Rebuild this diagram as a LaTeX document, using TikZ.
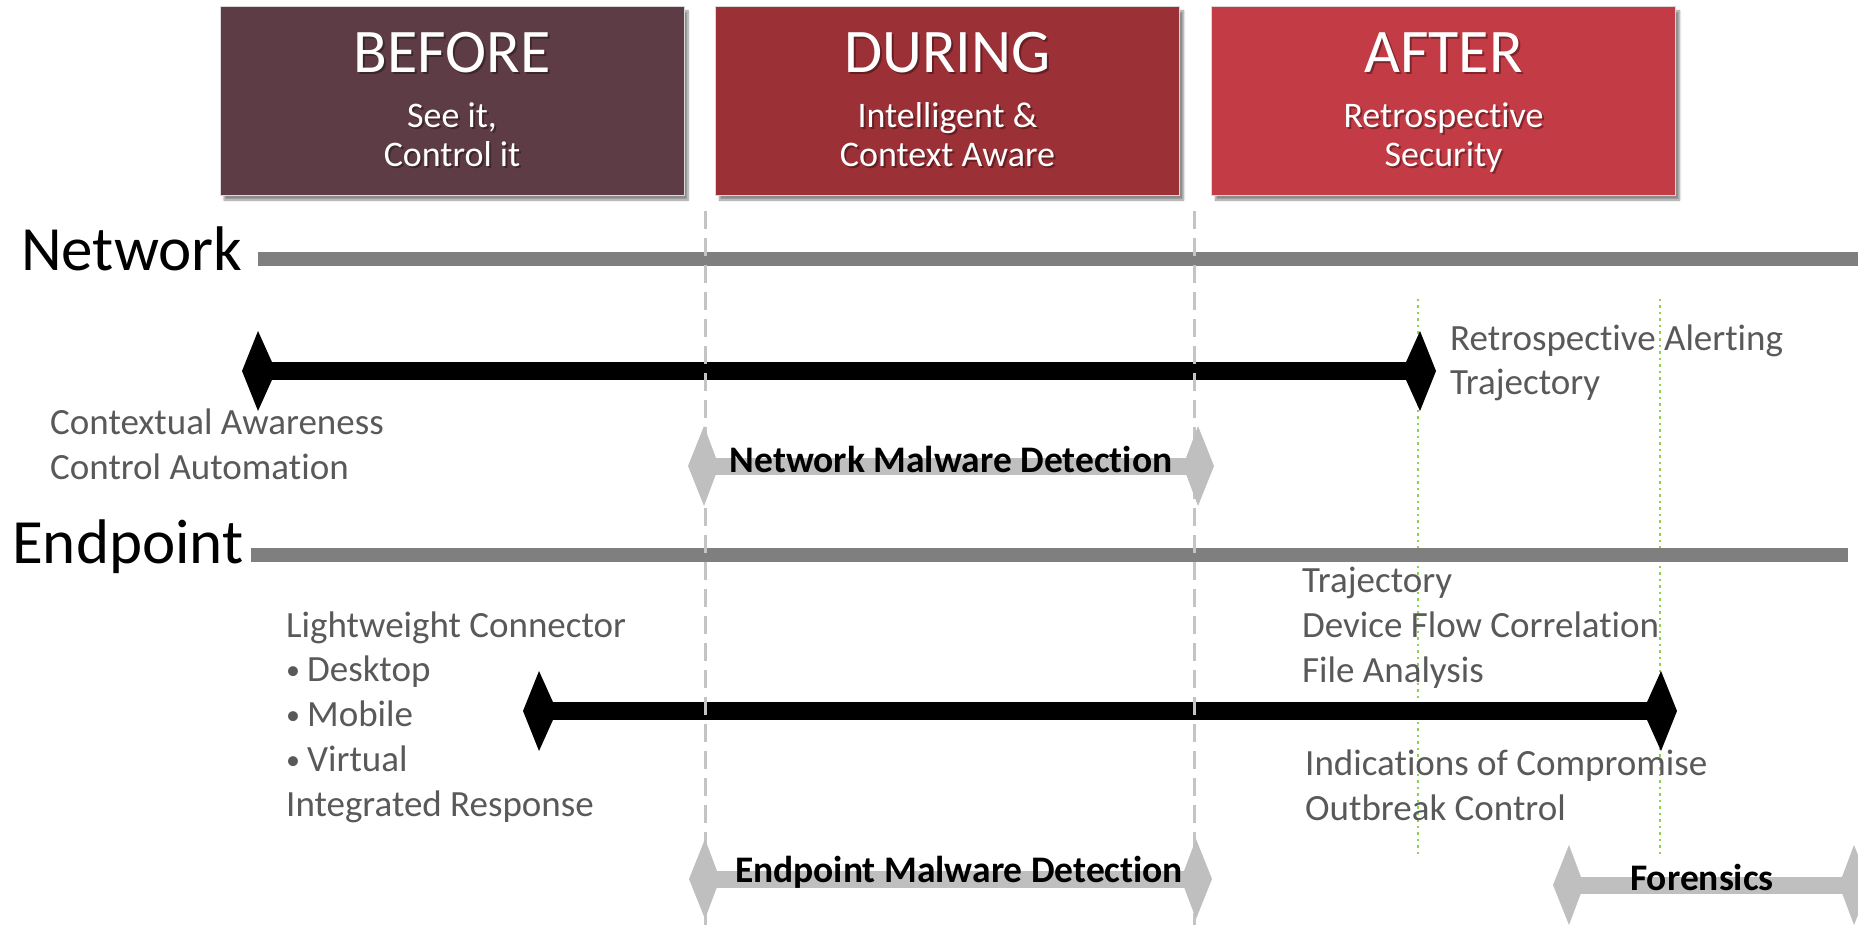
\documentclass[tikz,border=0pt]{standalone}
\usepackage{fontspec}
\setmainfont{Carlito}[Ligatures=NoCommon]
\usetikzlibrary{arrows.meta,shadows.blur}

\definecolor{beforec}{HTML}{5E3C46}
\definecolor{duringc}{HTML}{9B3037}
\definecolor{afterc}{HTML}{C33B44}
\definecolor{bodytxt}{HTML}{595959}
\definecolor{axisgray}{HTML}{7F7F7F}
\definecolor{spangray}{HTML}{BFBFBF}
\definecolor{guidegray}{HTML}{C4C4C4}
\definecolor{dotgreen}{HTML}{92D050}

\newcommand{\itembullet}{{\fontsize{28}{28}\selectfont\raisebox{1.5pt}{•}}\hspace{7pt}}

\tikzset{
  bk/.tip={Kite[length=34pt,width=80pt,inset=18pt]},
  gk/.tip={Kite[length=31pt,width=80pt,inset=15pt]},
  phasebox/.style={rectangle, inner sep=0pt, minimum width=464pt, minimum height=189pt,
    draw=white!85!black, line width=1pt,
    blur shadow={shadow xshift=4pt, shadow yshift=-4pt, shadow blur steps=8, shadow opacity=45}},
  phasetitle/.style={anchor=base, inner sep=0pt, text=white, font=\fontsize{62}{70}\selectfont},
  phasesub/.style={anchor=base, inner sep=0pt, text=white, font=\fontsize{36}{40}\selectfont},
  titleshade/.style={text=black, opacity=0.35},
  layerlabel/.style={anchor=base west, inner sep=0pt, text=black, font=\fontsize{63}{70}\selectfont},
  bodyline/.style={anchor=base west, inner sep=0pt, text=bodytxt, font=\fontsize{37}{45}\selectfont},
  spanlabel/.style={anchor=base, inner sep=0pt, text=black, font=\bfseries\fontsize{37.5}{40}\selectfont},
  axisline/.style={draw=axisgray, line width=14pt},
  reachline/.style={draw=black, line width=18pt, bk-bk},
  spanline/.style={draw=spangray, line width=17pt, gk-gk},
  guideline/.style={draw=guidegray, line width=3pt, dash pattern=on 18pt off 9pt},
  markline/.style={draw=dotgreen, line width=2.5pt, dash pattern=on 2.5pt off 4pt},
}

\begin{document}
\begin{tikzpicture}[x=1pt, y=-1pt]
\useasboundingbox (0,0) rectangle (1858,925);
\clip (0,0) rectangle (1858,925);

% phase boxes
\node[phasebox, fill=beforec] (before) at (452,101.5) {};
\node[phasebox, fill=duringc] (during) at (947.5,101.5) {};
\node[phasebox, fill=afterc]  (after)  at (1443.5,101.5) {};

% soft shading under the box titles
\node[phasetitle, titleshade] (beforeS) at (454,75) {BEFORE};
\node[phasesub, titleshade] (beforeSa) at (454,130) {See it,};
\node[phasesub, titleshade] (beforeSb) at (454,169) {Control it};
\node[phasetitle, titleshade] (duringS) at (949.5,75) {DURING};
\node[phasesub, titleshade] (duringSa) at (949.5,130) {Intelligent \&};
\node[phasesub, titleshade] (duringSb) at (949.5,169) {Context Aware};
\node[phasetitle, titleshade] (afterS) at (1445.5,75) {AFTER};
\node[phasesub, titleshade] (afterSa) at (1445.5,130) {Retrospective};
\node[phasesub, titleshade] (afterSb) at (1445.5,169) {Security};

% box titles
\node[phasetitle] (beforeT) at (452,73) {BEFORE};
\node[phasesub] (beforeA) at (452,128) {See it,};
\node[phasesub] (beforeB) at (452,167) {Control it};
\node[phasetitle] (duringT) at (947.5,73) {DURING};
\node[phasesub] (duringA) at (947.5,128) {Intelligent \&};
\node[phasesub] (duringB) at (947.5,167) {Context Aware};
\node[phasetitle] (afterT) at (1443.5,73) {AFTER};
\node[phasesub] (afterA) at (1443.5,128) {Retrospective};
\node[phasesub] (afterB) at (1443.5,167) {Security};

% green markers in the AFTER phase
\coordinate (m1t) at (1418,299); \coordinate (m1b) at (1418,856);
\coordinate (m2t) at (1660,299); \coordinate (m2b) at (1660,856);
\draw[markline] (m1t) -- (m1b);
\draw[markline] (m2t) -- (m2b);

% layer axes
\node[layerlabel] (network) at (21,271) {Network};
\node[layerlabel] (endpoint) at (12,563) {Endpoint};
\coordinate (netL) at (258,259); \coordinate (netR) at (1858,259);
\coordinate (endL) at (251,555); \coordinate (endR) at (1848,555);
\draw[axisline] (netL) -- (netR);
\draw[axisline] (endL) -- (endR);

% coverage arrows
\coordinate (nrL) at (242,371); \coordinate (nrR) at (1436,371);
\coordinate (erL) at (523,711); \coordinate (erR) at (1677,711);
\draw[reachline] (nrL) -- (nrR);
\draw[reachline] (erL) -- (erR);

% phase boundaries
\coordinate (g1t) at (705,211); \coordinate (g1b) at (705,925);
\coordinate (g2t) at (1194,211); \coordinate (g2b) at (1194,925);
\draw[guideline] (g1t) -- (g1b);
\draw[guideline] (g2t) -- (g2b);

% detection spans
\coordinate (nsL) at (688,466); \coordinate (nsR) at (1214,466);
\coordinate (esL) at (689,879); \coordinate (esR) at (1212,879);
\coordinate (fsL) at (1553,885); \coordinate (fsR) at (1870,885);
\draw[spanline] (nsL) -- (nsR);
\draw[spanline] (esL) -- (esR);
\draw[spanline] (fsL) -- (fsR);
\node[spanlabel] (nmd) at (951,472) {Network Malware Detection};
\node[spanlabel] (emd) at (959,882) {Endpoint Malware Detection};
\node[spanlabel] (fore) at (1702,890) {Forensics};

% network capabilities
\node[bodyline] (ca) at (50,434) {Contextual Awareness};
\node[bodyline] (cm) at (50,479) {Control Automation};
\node[bodyline] (ra) at (1450,350) {Retrospective Alerting};
\node[bodyline] (nt) at (1450,394) {Trajectory};

% endpoint capabilities
\node[bodyline] (lc) at (286,637) {Lightweight Connector};
\node[bodyline] (dk) at (286,681) {\itembullet Desktop};
\node[bodyline] (mb) at (286,726) {\itembullet Mobile};
\node[bodyline] (vt) at (286,771) {\itembullet Virtual};
\node[bodyline] (ir) at (286,816) {Integrated Response};
\node[bodyline] (et) at (1302,592) {Trajectory};
\node[bodyline] (df) at (1302,637) {Device Flow Correlation};
\node[bodyline] (fa) at (1302,682) {File Analysis};
\node[bodyline] (ic) at (1305,775) {Indications of Compromise};
\node[bodyline] (oc) at (1305,820) {Outbreak Control};
\end{tikzpicture}
\end{document}
